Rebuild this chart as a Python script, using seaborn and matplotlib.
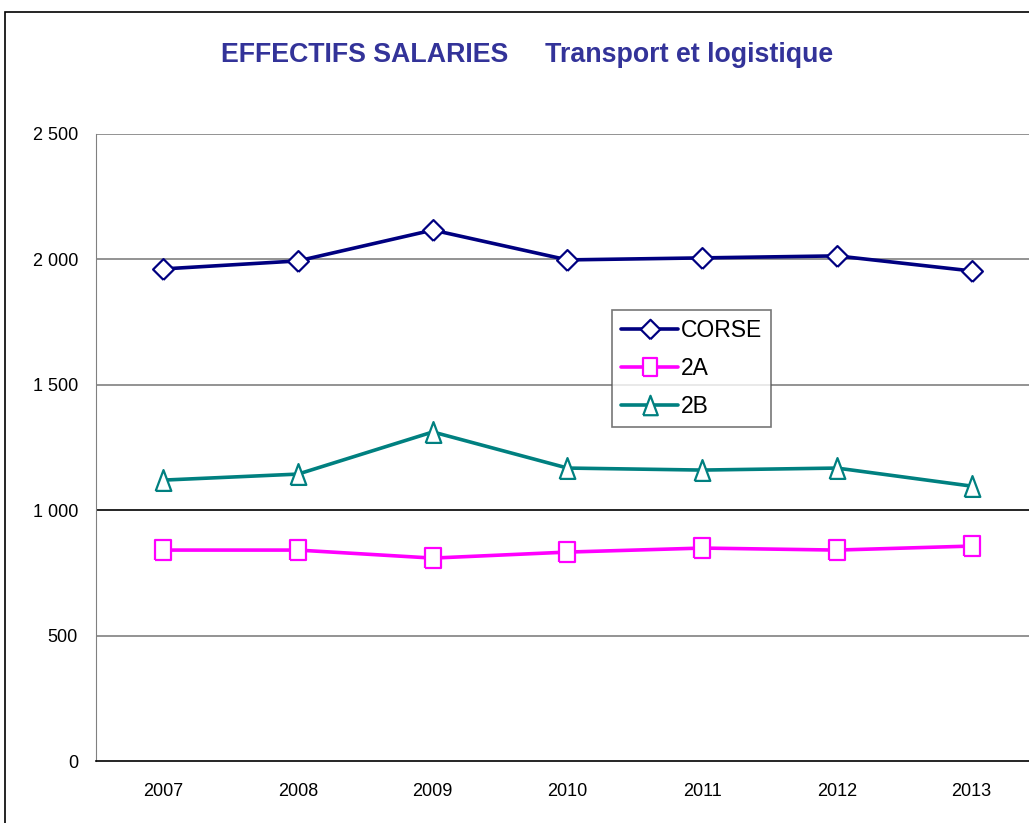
import matplotlib
matplotlib.use("Agg")
import matplotlib.pyplot as plt
import seaborn as sns
import pandas as pd
from matplotlib.lines import Line2D
from matplotlib.patches import Rectangle

# Data
years = ["2007", "2008", "2009", "2010", "2011", "2012", "2013"]
corse = [1962, 1994, 2117, 1998, 2006, 2014, 1954]
dep_2a = [841, 841, 809, 833, 849, 841, 857]
dep_2b = [1120, 1144, 1312, 1168, 1160, 1168, 1096]

series = ["CORSE", "2A", "2B"]
colors = {"CORSE": "#000080", "2A": "#FF00FF", "2B": "#008080"}
# slightly tall markers, like the original
markers = {
    "CORSE": [(0, -1), (1, 0), (0, 1), (-1, 0), (0, -1)],
    "2A": [(-0.8, -1), (0.8, -1), (0.8, 1), (-0.8, 1), (-0.8, -1)],
    "2B": [(-0.75, -1), (0.75, -1), (0, 1), (-0.75, -1)],
}
msize = {"CORSE": 15, "2A": 14, "2B": 15}

df = pd.DataFrame({
    "annee": years * 3,
    "pos": list(range(len(years))) * 3,
    "effectif": corse + dep_2a + dep_2b,
    "serie": ["CORSE"] * 7 + ["2A"] * 7 + ["2B"] * 7,
})

sns.set_style("white")
plt.rcParams["font.family"] = ["Liberation Sans", "DejaVu Sans"]
plt.rcParams["text.color"] = "black"
plt.rcParams["xtick.color"] = "black"
plt.rcParams["ytick.color"] = "black"

fig = plt.figure(figsize=(10.29, 8.23), dpi=100)
ax = fig.add_axes([96 / 1029, 1 - 761 / 823, 943 / 1029, 627 / 823])

# Horizontal grid lines
for v in [500, 1500, 2000, 2500]:
    ax.axhline(v, color="#808080", lw=1.2, zorder=0)
ax.axhline(1000, color="black", lw=1.2, zorder=0)

sns.lineplot(data=df, x="pos", y="effectif", hue="serie", style="serie",
             hue_order=series, style_order=series, palette=colors,
             markers=markers, dashes=False, lw=2.6, ax=ax, legend=False,
             markersize=13, markerfacecolor="white", markeredgewidth=1.6,
             zorder=3)
for line, s in zip(ax.lines[5:], series):
    line.set_markeredgecolor(line.get_color())
    line.set_markersize(msize[s])

ax.set_xlim(-0.5, len(years) - 0.5)
ax.set_ylim(0, 2500)
ax.set_xticks(range(len(years)))
ax.set_xticklabels(years, fontsize=13)
ax.set_xticks([i - 0.5 for i in range(len(years) + 1)], minor=True)
ax.tick_params(axis="x", which="major", length=0, pad=16)
ax.tick_params(axis="x", which="minor", length=6, width=1, direction="out",
               color="black")
ax.set_yticks([0, 500, 1000, 1500, 2000, 2500])
ax.set_yticklabels(["0", "500", "1 000", "1 500", "2 000", "2 500"],
                   fontsize=13)
ax.tick_params(axis="y", length=5, width=1, direction="out", color="black",
               pad=8)
ax.set_xlabel("")
ax.set_ylabel("")
for s in ["top", "right"]:
    ax.spines[s].set_visible(False)
ax.spines["left"].set_color("#808080")
ax.spines["bottom"].set_color("black")
ax.spines["bottom"].set_linewidth(1.2)

# Legend
handles = [Line2D([0], [0], color=colors[s], lw=2.6, marker=markers[s],
                  markersize=msize[s] - 1, markerfacecolor="white",
                  markeredgecolor=colors[s], markeredgewidth=1.6)
           for s in series]
leg = fig.legend(handles, series, loc="upper left",
                 bbox_to_anchor=(612 / 1029, 1 - 310 / 823),
                 fontsize=16.5, frameon=True, fancybox=False,
                 edgecolor="#555555", handlelength=2.5, handletextpad=0.1,
                 borderpad=0.4, labelspacing=0.65, borderaxespad=0,
                 labelcolor="black")
leg.get_frame().set_linewidth(1.2)

fig.text(527 / 1029, 1 - 55 / 823,
         "EFFECTIFS SALARIES     Transport et logistique",
         ha="center", va="center", fontsize=19.3, fontweight="bold",
         color="#333399")

# Outer chart border
fig.patches.append(Rectangle((5 / 1029, -0.05), 1.2, 1 - 12 / 823 + 0.05,
                             transform=fig.transFigure, fill=False,
                             edgecolor="black", lw=1.2))

fig.savefig("out.png", dpi=100)
